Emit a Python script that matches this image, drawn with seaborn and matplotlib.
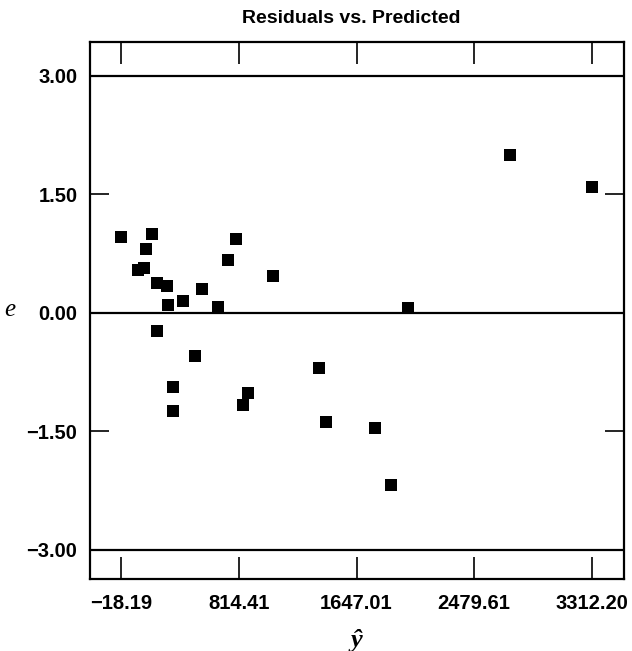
import matplotlib
matplotlib.use("Agg")
import matplotlib.pyplot as plt
import seaborn as sns
import pandas as pd

# Data
predicted = [-18.19, 100.9, 143.4, 155.4, 195.8, 231.2, 231.2, 302.1, 311.3, 344.6,
             348.9, 415.4, 502.6, 552.2, 667.7, 738.6, 793.1, 839.2, 880.3, 1053.2,
             1383.4, 1428.7, 1778.0, 1889.3, 2009.7, 2734.6, 3312.20]
residuals = [0.956, 0.547, 0.563, 0.808, 0.997, 0.373, -0.225, 0.335, 0.104, -0.943,
             -1.247, 0.154, -0.542, 0.297, 0.070, 0.671, 0.939, -1.162, -1.015, 0.471,
             -0.699, -1.386, -1.458, -2.175, 0.059, 2.003, 1.589]
x_ticks = [-18.19, 814.41, 1647.01, 2479.61, 3312.20]
x_tick_labels = ["\u221218.19", "814.41", "1647.01", "2479.61", "3312.20"]
y_ticks = [3.0, 1.5, 0.0, -1.5, -3.0]
y_tick_labels = ["3.00", "1.50", "0.00", "\u22121.50", "\u22123.00"]
ref_lines = [3.0, 0.0, -3.0]

df = pd.DataFrame({"yhat": predicted, "e": residuals})

sns.set_style("white")
plt.rcParams["font.family"] = ["Liberation Sans", "DejaVu Sans"]
plt.rcParams["text.color"] = "black"
plt.rcParams["xtick.color"] = "black"
plt.rcParams["ytick.color"] = "black"
plt.rcParams["axes.labelcolor"] = "black"

fig = plt.figure(figsize=(6.32, 6.51), dpi=100)
ax = fig.add_axes([0.1424, 0.1106, 0.8442, 0.8249])

for v in ref_lines:
    ax.axhline(v, color="black", lw=1.6, zorder=1)

sns.scatterplot(data=df, x="yhat", y="e", marker="s", s=78, color="black",
                edgecolor="black", linewidth=0, ax=ax, zorder=3, legend=False)

ax.set_xlim(-241.4, 3538.9)
ax.set_ylim(-3.37, 3.43)

ax.set_xticks(x_ticks)
ax.set_xticklabels(x_tick_labels, fontsize=14.5, fontweight="bold")
ax.set_yticks(y_ticks)
ax.set_yticklabels(y_tick_labels, fontsize=14.5, fontweight="bold")
ax.tick_params(axis="x", direction="in", length=16, width=1.2, top=True, bottom=True,
               pad=11, color="black")
ax.tick_params(axis="y", direction="in", length=14, width=1.2, left=True, right=True,
               pad=9, color="black")

for sp in ax.spines.values():
    sp.set_visible(True)
    sp.set_color("black")
    sp.set_linewidth(1.6)

serif = ["Liberation Serif", "DejaVu Serif"]
ax.set_xlabel("\u0177", fontsize=19, family=serif, style="italic", fontweight="bold",
              labelpad=11)
ax.set_ylabel("e", fontsize=18, family=serif, style="italic",
              rotation=0, va="center")
ax.yaxis.set_label_coords(-0.15, 0.5)
ax.set_title("Residuals vs. Predicted", fontsize=14, fontweight="bold", pad=14, x=0.49)

fig.savefig("out.png", dpi=100)
